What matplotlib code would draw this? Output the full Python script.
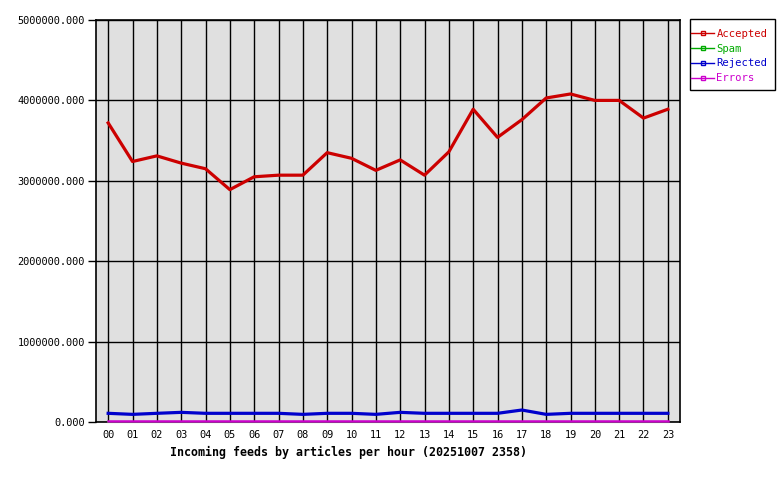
"""
Incoming feeds by articles per hour.
"""
import matplotlib
matplotlib.use('Agg')
import matplotlib.pyplot as plt
from matplotlib.lines import Line2D
from matplotlib.patches import Rectangle

hours = ['00', '01', '02', '03', '04', '05', '06', '07', '08', '09', '10', '11',
         '12', '13', '14', '15', '16', '17', '18', '19', '20', '21', '22', '23']
accepted = [3720000, 3240000, 3310000, 3220000, 3150000, 2890000, 3050000, 3070000,
            3070000, 3350000, 3280000, 3130000, 3260000, 3070000, 3360000, 3890000,
            3540000, 3760000, 4030000, 4080000, 4000000, 4000000, 3780000, 3890000]
spam = [0] * 24
rejected = [108000, 95000, 108000, 120000, 108000, 108000, 108000, 108000,
            95000, 108000, 108000, 95000, 120000, 108000, 108000, 108000,
            108000, 149000, 95000, 108000, 108000, 108000, 108000, 108000]
errors = [12000] * 24

series = [('Accepted', accepted, '#cc0000', 2.3),
          ('Spam', spam, '#00aa00', 1.5),
          ('Rejected', rejected, '#0000cc', 2.3),
          ('Errors', errors, '#cc00cc', 1.8)]

plt.rcParams['font.family'] = 'DejaVu Sans Mono'

fig = plt.figure(figsize=(7.8, 4.8), dpi=100)
ax = fig.add_axes([96 / 780, 58 / 480, 584 / 780, 402 / 480])
ax.set_facecolor('#e0e0e0')

x = list(range(len(hours)))
for name, vals, color, lw in series:
    ax.plot(x, vals, color=color, linewidth=lw, zorder=3, clip_on=False)

ax.set_xlim(-0.5, 23.5)
ax.set_ylim(0, 5000000)
ax.set_xticks(x)
ax.set_xticklabels(hours)
ax.set_yticks([0, 1000000, 2000000, 3000000, 4000000, 5000000])
ax.set_yticklabels(['%.3f' % v for v in ax.get_yticks()])
ax.tick_params(axis='x', length=0, pad=6, labelsize=7.4)
ax.tick_params(axis='y', length=6, width=1, pad=2, labelsize=7.4)
ax.grid(True, color='black', linewidth=1)
ax.set_axisbelow(True)
for sp in ax.spines.values():
    sp.set_color('black')
    sp.set_linewidth(1.2)

# рамка легенды рисуется отдельно
fig.patches.append(Rectangle((690 / 780, 1 - 90 / 480), 85 / 780, 71 / 480,
                             transform=fig.transFigure, fill=False,
                             edgecolor='black', linewidth=1))

handles = [Line2D([0], [0], color=c, linewidth=1, marker='s', markersize=3,
                  markerfacecolor='none', markeredgecolor=c)
           for _, _, c, _ in series]
leg = fig.legend(handles, [s[0] for s in series], loc='upper left',
                 bbox_to_anchor=(691 / 780, 1 - 29 / 480), numpoints=1,
                 frameon=False, fontsize=7.6, handlelength=2.2,
                 handletextpad=0.2, borderpad=0, labelspacing=0.45,
                 borderaxespad=0)
for txt, (_, _, c, _) in zip(leg.get_texts(), series):
    txt.set_color(c)

fig.text(170 / 780, 1 - 452 / 480,
         'Incoming feeds by articles per hour (20251007 2358)',
         fontsize=8.4, fontweight='bold', va='center', ha='left')

fig.savefig('out.png', dpi=100)
